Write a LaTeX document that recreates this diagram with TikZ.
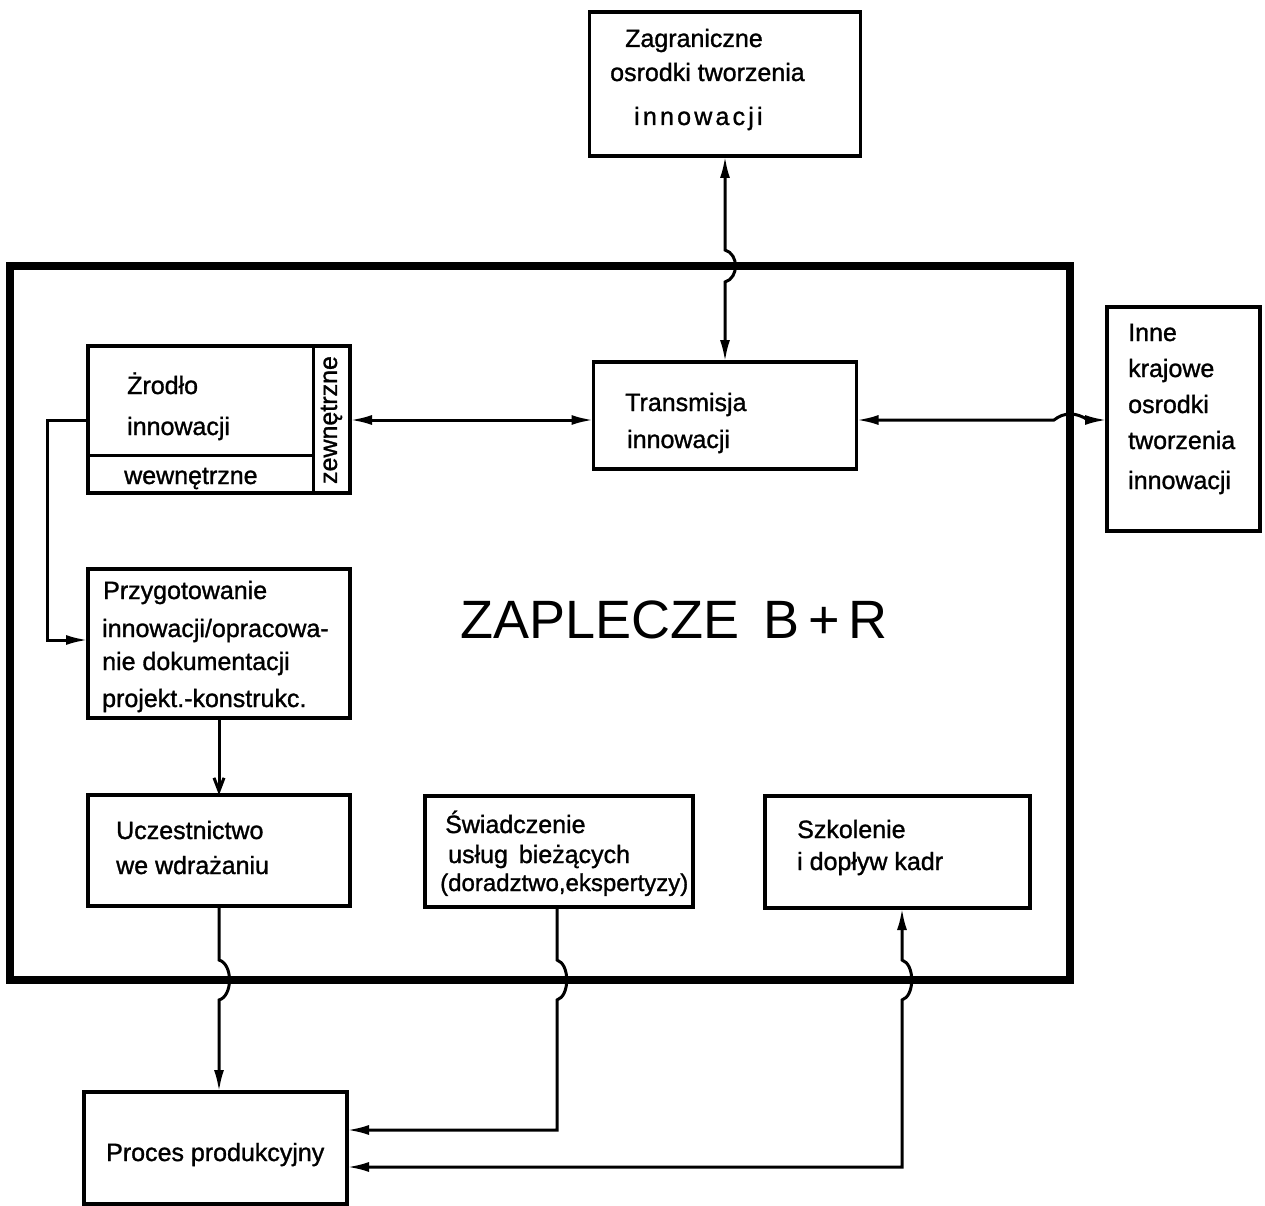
\documentclass[tikz,border=0pt]{standalone}
\usepackage{fontspec}
\setmainfont{Liberation Sans}
\newfontfamily\letterfont{Liberation Sans}[FakeBold=1.2]
\usetikzlibrary{arrows.meta}
\begin{document}
\begin{tikzpicture}[x=1pt,y=-1pt,
  box/.style={draw, line width=3.4pt, inner sep=0pt, outer sep=0pt},
  frame/.style={draw, line width=7.5pt, inner sep=0pt, outer sep=0pt},
  conn/.style={line width=3pt},
  tip/.tip={Latex[length=22pt,width=10pt]},
  barb/.tip={Straight Barb[length=13pt,width=10pt,line width=3pt]},
  lbl/.style={anchor=base west, inner sep=0pt, font=\letterfont\fontsize{25}{30}\selectfont},
  big/.style={anchor=base, inner sep=0pt, font=\fontsize{54}{60}\selectfont}]
\useasboundingbox (0,0) rectangle (1265,1206);

% outer frame of the R&D facilities
\node[frame, minimum width=1060pt, minimum height=714pt] (bplusr) at (540,623) {};
\node[big] (title) at (674,638) {ZAPLECZE\hspace{0.45em}B\,+\,R};

% boxes
\node[box, minimum width=271pt, minimum height=144pt] (zag) at (725,84) {};
\node[box, minimum width=263pt, minimum height=107pt] (trans) at (725,415.5) {};
\node[box, minimum width=153pt, minimum height=224pt] (inne) at (1183.5,419) {};
\node[box, minimum width=262pt, minimum height=147pt] (zr) at (219,419.5) {};
\node[box, minimum width=262pt, minimum height=149pt] (prz) at (219,643.5) {};
\node[box, minimum width=262pt, minimum height=111pt] (ucz) at (219,850.5) {};
\node[box, minimum width=268pt, minimum height=111pt] (sw) at (559,851.5) {};
\node[box, minimum width=265pt, minimum height=112pt] (sk) at (897.5,852) {};
\node[box, minimum width=263pt, minimum height=112pt] (proc) at (215.5,1148) {};

% split of the source box into internal / external parts
\coordinate (zsplit) at (313,455);
\draw[line width=3pt] (zr.north -| zsplit) -- (zr.south -| zsplit);
\draw[line width=3pt] (zr.west |- zsplit) -- (zsplit);

% texts
\node[lbl] (zag1) at (625,47) {Zagraniczne};
\node[lbl] (zag2) at (610,81) {osrodki tworzenia};
\node[lbl] (zag3) at (634,125) {i\kern3.2pt n\kern3.2pt n\kern3.2pt o\kern3.2pt w\kern3.2pt a\kern3.2pt c\kern3.2pt j\kern3.2pt i};

\node[lbl] (tr1) at (625,411) {Transmisja};
\node[lbl] (tr2) at (627,448) {innowacji};

\node[lbl] (in1) at (1128,341) {Inne};
\node[lbl] (in2) at (1128,377) {krajowe};
\node[lbl] (in3) at (1128,413) {osrodki};
\node[lbl] (in4) at (1128,449) {tworzenia};
\node[lbl] (in5) at (1128,489) {innowacji};

\node[lbl] (zr1) at (127,394) {Żrodło};
\node[lbl] (zr2) at (127,435) {innowacji};
\node[lbl] (zr3) at (124,484) {wewnętrzne};
\node[inner sep=0pt, rotate=90, font=\letterfont\fontsize{25}{30}\selectfont] (zr4) at (331.5,420) {zewnętrzne};

\node[lbl] (pr1) at (103,599) {Przygotowanie};
\node[lbl] (pr2) at (102,637) {innowacji/opracowa-};
\node[lbl] (pr3) at (102,670) {nie dokumentacji};
\node[lbl] (pr4) at (102,707) {projekt.-konstrukc.};

\node[lbl] (uc1) at (116,839) {Uczestnictwo};
\node[lbl] (uc2) at (116,874) {we wdrażaniu};

\node[lbl] (sw1) at (445,833) {Świadczenie};
\node[lbl] (sw2) at (448,863) {usług\kern4pt{} bieżących};
\node[lbl, font=\letterfont\fontsize{24}{30}\selectfont] (sw3) at (440,891) {(doradztwo,ekspertyzy)};

\node[lbl] (sk1) at (797,838) {Szkolenie};
\node[lbl] (sk2) at (797,870) {i dopływ kadr};

\node[lbl] (pc1) at (106,1161) {Proces produkcyjny};

% connectors
\coordinate (yl) at (0,420);
\coordinate (yl2) at (0,640);
\coordinate (xs) at (557,0);
\coordinate (xk) at (902,0);
\coordinate (ya) at (0,1130);
\coordinate (yb) at (0,1167);

\draw[conn, tip-tip] (zag.south) -- (725,250)
  .. controls (739,254) and (739,278) .. (725,282) -- (trans.north);
\draw[conn, tip-tip] (zr.east |- yl) -- (trans.west |- yl);
\draw[conn, tip-tip] (trans.east |- yl) -- (1054,420)
  .. controls (1064,412) and (1076,412) .. (1088,420) -- (inne.west |- yl);
\draw[conn, -tip] (zr.west |- yl) -- (47,420) -- (47,640) -- (prz.west |- yl2);
\draw[conn, -barb] (prz.south) -- (ucz.north);
\draw[conn, -tip] (ucz.south) -- (219,960)
  .. controls (233,964) and (233,996) .. (219,1000) -- (ucz.south |- proc.north);
\draw[conn, -tip] (sw.south -| xs) -- (557,960)
  .. controls (570,964) and (570,996) .. (557,1000) -- (557,1130) -- (proc.east |- ya);
\draw[conn, tip-tip] (proc.east |- yb) -- (902,1167) -- (902,1000)
  .. controls (915,996) and (915,964) .. (902,960) -- (sk.south -| xk);
\end{tikzpicture}
\end{document}
